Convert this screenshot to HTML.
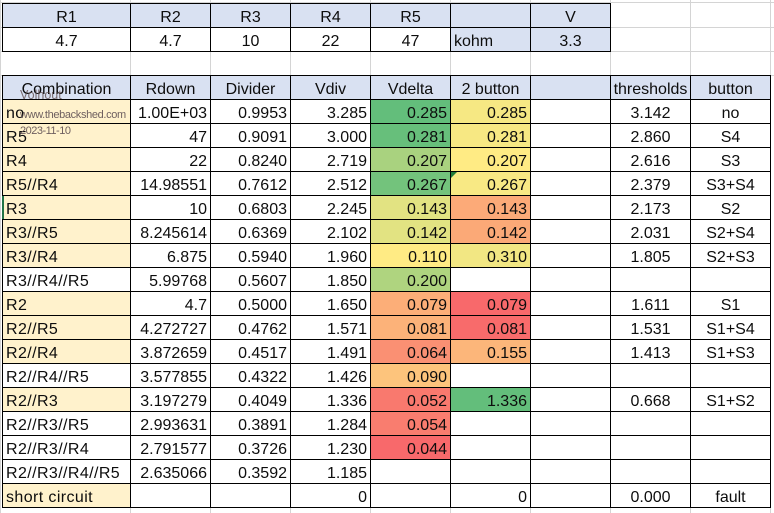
<!DOCTYPE html>
<html><head><meta charset="utf-8">
<style>
*{margin:0;padding:0;box-sizing:border-box}
html,body{width:774px;height:513px;overflow:hidden;background:#fff}
body{position:relative;font-family:"Liberation Sans",Arial,sans-serif;font-size:16px;color:#0d0d0d}
.gv{position:absolute;top:0;width:1px;height:513px;background:#d4d4d4}
.gh{position:absolute;left:0;height:1px;width:774px;background:#d4d4d4}
.grid{position:absolute;display:grid;gap:1px;padding:1px;background:#000}
.top{left:2px;top:3px;grid-template-columns:127px repeat(6,79px);grid-template-rows:23px 23px}
.main{left:2px;top:75px;grid-template-columns:127px repeat(8,79px);grid-template-rows:repeat(18,23px)}
.grid div{background:#fff;height:23px;line-height:23px;padding-top:1.5px;white-space:nowrap;overflow:visible}
.c{text-align:center}
.r{text-align:right;padding-right:3px}
.l{text-align:left;padding-left:3px}
.main .l{letter-spacing:0.4px}
.grid div.h{background:#D9E1F2}
.grid div.p{background:#FFF2CC}
.wm{position:absolute;color:#6e5f5f;white-space:nowrap;line-height:1}
</style></head><body>
<div class="gv" style="left:0"></div>
<div class="gv" style="left:130px"></div>
<div class="gv" style="left:210px"></div>
<div class="gv" style="left:290px"></div>
<div class="gv" style="left:370px"></div>
<div class="gv" style="left:450px"></div>
<div class="gv" style="left:530px"></div>
<div class="gv" style="left:610px"></div>
<div class="gv" style="left:690px"></div>
<div class="gv" style="left:770px"></div>
<div class="gh" style="top:2px"></div>
<div class="gh" style="top:27px"></div>
<div class="gh" style="top:51px"></div>
<div class="gh" style="top:75px"></div>

<div class="grid top">
<div class="h c">R1</div><div class="h c">R2</div><div class="h c">R3</div><div class="h c">R4</div><div class="h c">R5</div><div class="h c"></div><div class="h c">V</div>
<div class="c">4.7</div><div class="c">4.7</div><div class="c">10</div><div class="c">22</div><div class="c">47</div><div class="h l">kohm</div><div class="h c">3.3</div>
</div>

<div class="grid main">
<div class="h c">Combination</div><div class="h c">Rdown</div><div class="h c">Divider</div><div class="h c">Vdiv</div><div class="h c">Vdelta</div><div class="h c">2 button</div><div class="h c"></div><div class="h c">thresholds</div><div class="h c">button</div>

<div class="p l">no</div><div class="r">1.00E+03</div><div class="r">0.9953</div><div class="r">3.285</div><div class="r" style="background:rgb(99,190,123)">0.285</div><div class="r" style="background:rgb(246,232,131)">0.285</div><div></div><div class="c">3.142</div><div class="c">no</div>

<div class="p l">R5</div><div class="r">47</div><div class="r">0.9091</div><div class="r">3.000</div><div class="r" style="background:rgb(103,191,123)">0.281</div><div class="r" style="background:rgb(247,232,131)">0.281</div><div></div><div class="c">2.860</div><div class="c">S4</div>

<div class="p l">R4</div><div class="r">22</div><div class="r">0.8240</div><div class="r">2.719</div><div class="r" style="background:rgb(169,210,127)">0.207</div><div class="r" style="background:rgb(255,235,132)">0.207</div><div></div><div class="c">2.616</div><div class="c">S3</div>

<div class="p l">R5//R4</div><div class="r">14.98551</div><div class="r">0.7612</div><div class="r">2.512</div><div class="r" style="background:rgb(115,195,124)">0.267</div><div class="r" style="background:rgb(248,233,132)">0.267</div><div></div><div class="c">2.379</div><div class="c">S3+S4</div>

<div class="p l">R3</div><div class="r">10</div><div class="r">0.6803</div><div class="r">2.245</div><div class="r" style="background:rgb(226,227,130)">0.143</div><div class="r" style="background:rgb(252,170,120)">0.143</div><div></div><div class="c">2.173</div><div class="c">S2</div>

<div class="p l">R3//R5</div><div class="r">8.245614</div><div class="r">0.6369</div><div class="r">2.102</div><div class="r" style="background:rgb(226,227,130)">0.142</div><div class="r" style="background:rgb(251,169,119)">0.142</div><div></div><div class="c">2.031</div><div class="c">S2+S4</div>

<div class="p l">R3//R4</div><div class="r">6.875</div><div class="r">0.5940</div><div class="r">1.960</div><div class="r" style="background:rgb(255,235,132)">0.110</div><div class="r" style="background:rgb(242,231,131)">0.310</div><div></div><div class="c">1.805</div><div class="c">S2+S3</div>

<div class="l">R3//R4//R5</div><div class="r">5.99768</div><div class="r">0.5607</div><div class="r">1.850</div><div class="r" style="background:rgb(175,212,127)">0.200</div><div></div><div></div><div></div><div></div>

<div class="p l">R2</div><div class="r">4.7</div><div class="r">0.5000</div><div class="r">1.650</div><div class="r" style="background:rgb(252,174,120)">0.079</div><div class="r" style="background:rgb(248,105,107)">0.079</div><div></div><div class="c">1.611</div><div class="c">S1</div>

<div class="p l">R2//R5</div><div class="r">4.272727</div><div class="r">0.4762</div><div class="r">1.571</div><div class="r" style="background:rgb(252,178,121)">0.081</div><div class="r" style="background:rgb(248,107,107)">0.081</div><div></div><div class="c">1.531</div><div class="c">S1+S4</div>

<div class="p l">R2//R4</div><div class="r">3.872659</div><div class="r">0.4517</div><div class="r">1.491</div><div class="r" style="background:rgb(250,144,115)">0.064</div><div class="r" style="background:rgb(252,182,122)">0.155</div><div></div><div class="c">1.413</div><div class="c">S1+S3</div>

<div class="l">R2//R4//R5</div><div class="r">3.577855</div><div class="r">0.4322</div><div class="r">1.426</div><div class="r" style="background:rgb(253,196,124)">0.090</div><div></div><div></div><div></div><div></div>

<div class="p l">R2//R3</div><div class="r">3.197279</div><div class="r">0.4049</div><div class="r">1.336</div><div class="r" style="background:rgb(249,121,110)">0.052</div><div class="r" style="background:rgb(99,190,123)">1.336</div><div></div><div class="c">0.668</div><div class="c">S1+S2</div>

<div class="l">R2//R3//R5</div><div class="r">2.993631</div><div class="r">0.3891</div><div class="r">1.284</div><div class="r" style="background:rgb(249,125,111)">0.054</div><div></div><div></div><div></div><div></div>

<div class="l">R2//R3//R4</div><div class="r">2.791577</div><div class="r">0.3726</div><div class="r">1.230</div><div class="r" style="background:rgb(248,105,107)">0.044</div><div></div><div></div><div></div><div></div>

<div class="l">R2//R3//R4//R5</div><div class="r">2.635066</div><div class="r">0.3592</div><div class="r">1.185</div><div></div><div></div><div></div><div></div><div></div>

<div class="p l">short circuit</div><div></div><div></div><div class="r">0</div><div></div><div class="r">0</div><div></div><div class="c">0.000</div><div class="c">fault</div>
</div>

<div style="position:absolute;left:451px;top:172px;width:0;height:0;border-top:6px solid #1f7a3a;border-right:6px solid transparent"></div>
<div style="position:absolute;left:2px;top:196px;width:2px;height:23px;background:#217346"></div>

<div class="wm" style="left:20px;top:89px;font-size:12.5px;color:rgba(90,70,70,0.75)">Volhout</div>
<div class="wm" style="left:20px;top:110px;font-size:11px;letter-spacing:-0.35px">www.thebackshed.com</div>
<div class="wm" style="left:20px;top:126px;font-size:11px;letter-spacing:-0.5px">2023-11-10</div>
</body></html>
